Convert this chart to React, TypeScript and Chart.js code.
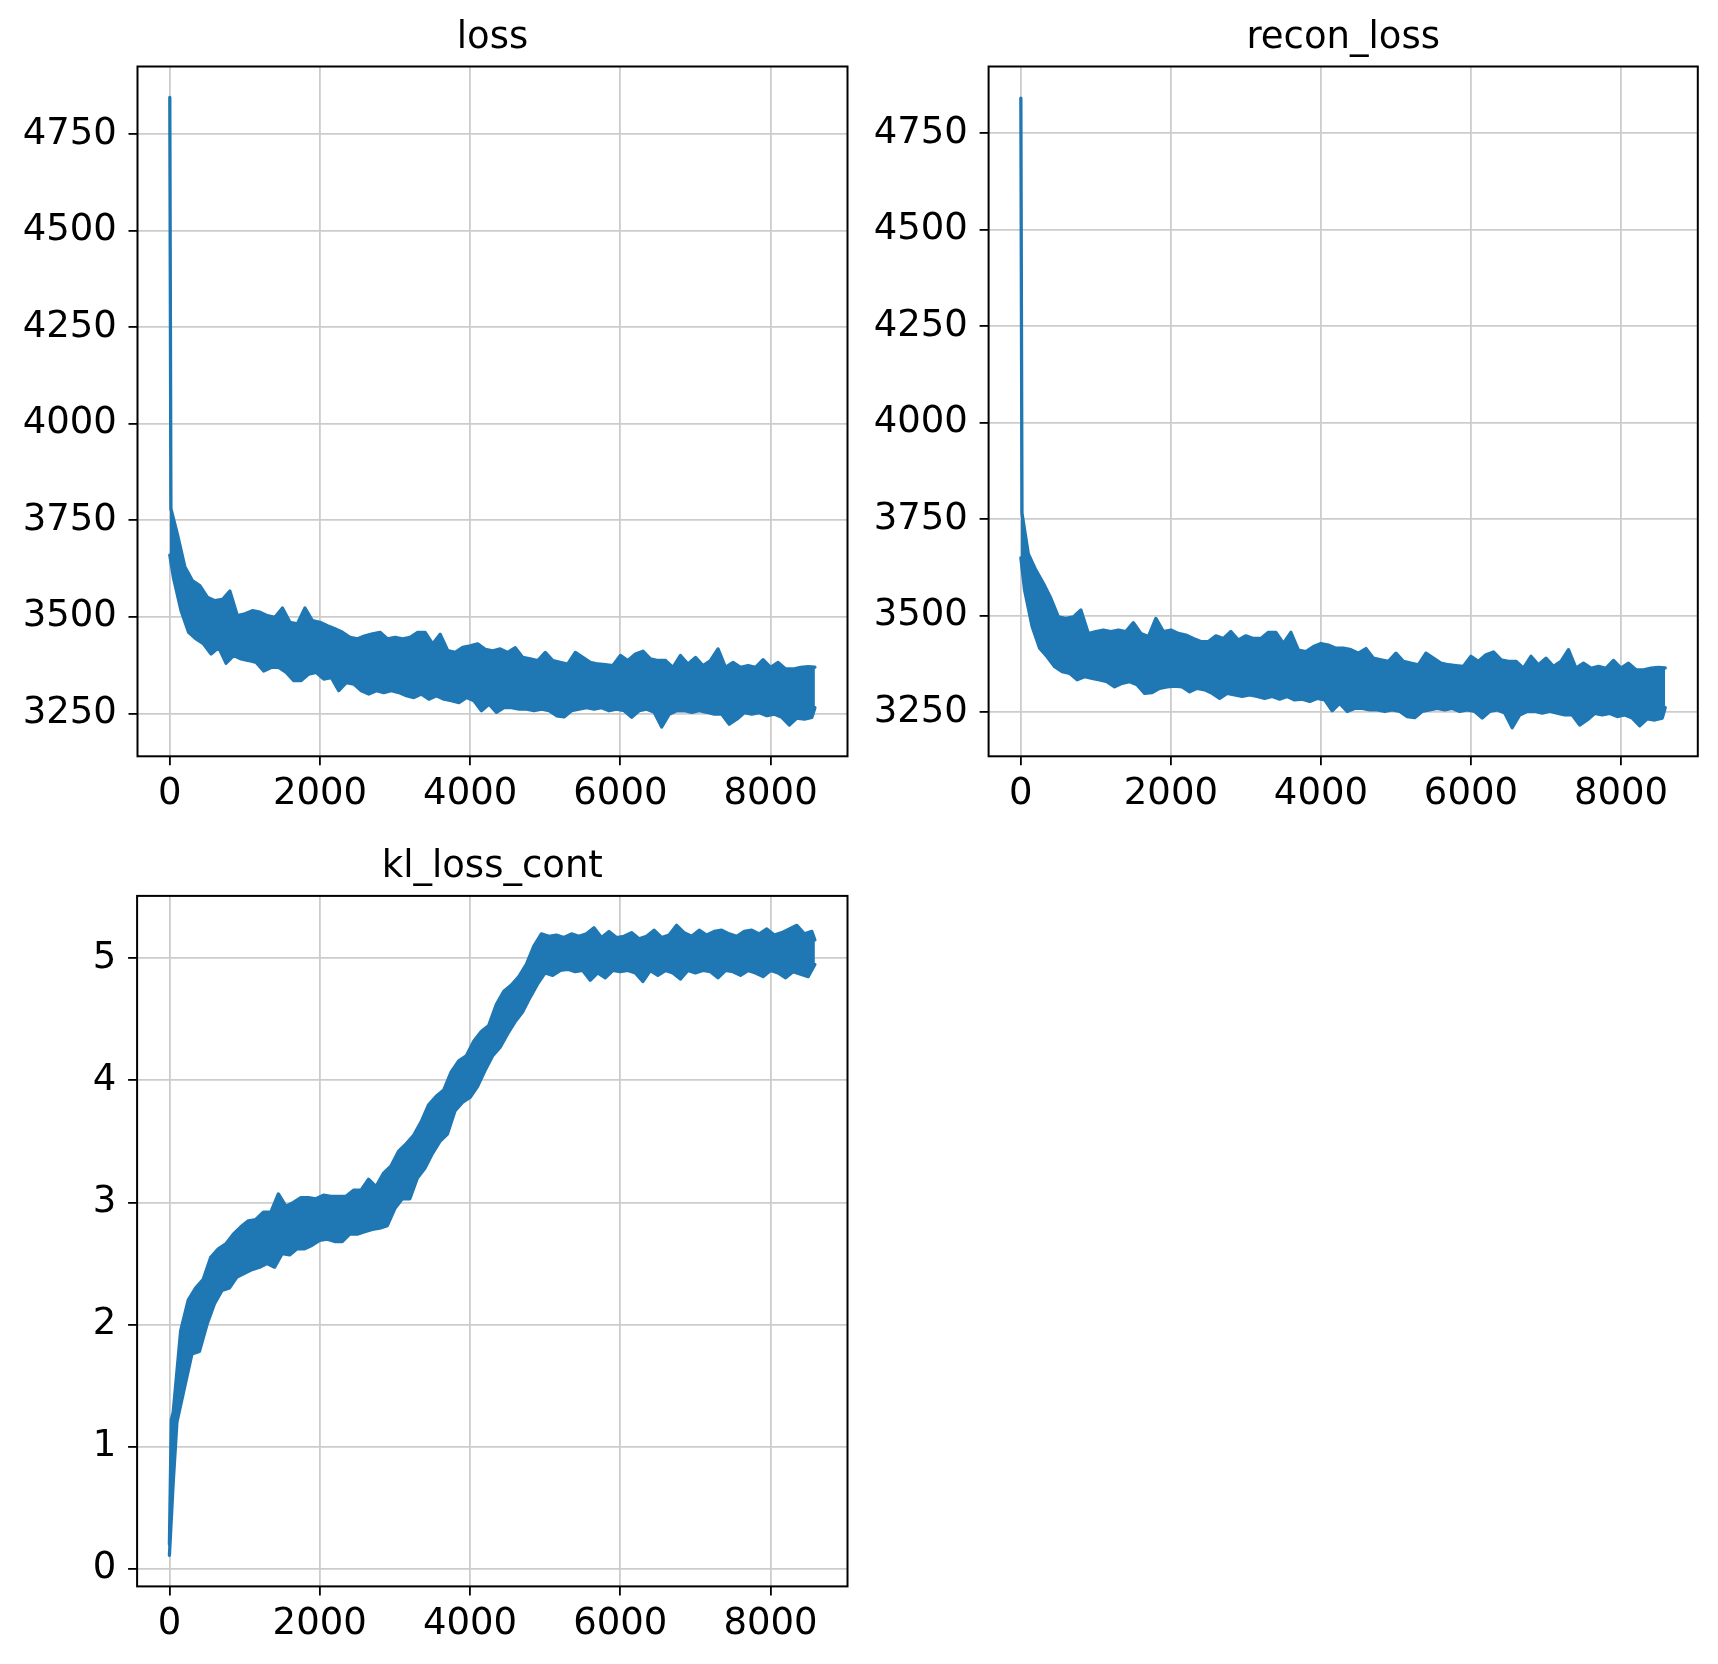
import React, { useEffect, useRef } from "react";
import { Chart, registerables } from "chart.js";

Chart.register(...registerables);

const FONT = "'DejaVu Sans', 'Liberation Sans', sans-serif";

// x grids of the envelope readings
const hundreds: number[] = Array.from({ length: 85 }, (_, i) => (i + 1) * 100); // 100..8500
const fifties: number[] = Array.from({ length: 86 }, (_, i) => i * 100 + 50); // 50..8550
const lastStep = 8590;

const xTicks = [0, 2000, 4000, 6000, 8000];
const lossTicks = [3250, 3500, 3750, 4000, 4250, 4500, 4750];
const klTicks = [0, 1, 2, 3, 4, 5];

// ---- loss: upper / lower edge of the noisy curve ----
const lossHighSteps = [0, 15, ...hundreds, lastStep];
const lossHigh = [
  4845, 3780,
  3715, 3630, 3594, 3581, 3551, 3542, 3545, 3567, 3503, 3508,
  3516, 3512, 3503, 3499, 3523, 3486, 3482, 3523, 3490, 3486,
  3477, 3469, 3460, 3447, 3443, 3451, 3456, 3460, 3443, 3447,
  3443, 3447, 3460, 3460, 3430, 3455, 3413, 3408, 3421, 3425,
  3430, 3416, 3412, 3417, 3408, 3420, 3395, 3391, 3387, 3408,
  3387, 3382, 3378, 3408, 3395, 3382, 3378, 3376, 3374, 3400,
  3387, 3404, 3411, 3391, 3387, 3387, 3369, 3400, 3378, 3395,
  3374, 3387, 3417, 3369, 3382, 3369, 3374, 3369, 3389, 3369,
  3382, 3365, 3365, 3369, 3371,
  3370,
];
const lossLowSteps = [0, ...fifties, lastStep];
const lossLow = [
  3660,
  3600, 3516, 3460, 3443, 3430, 3404, 3421, 3380, 3400, 3391,
  3387, 3382, 3360, 3369, 3369, 3356, 3335, 3335, 3352, 3356,
  3339, 3343, 3309, 3330, 3326, 3309, 3300, 3309, 3304, 3309,
  3304, 3296, 3291, 3300, 3287, 3296, 3287, 3283, 3278, 3291,
  3283, 3257, 3274, 3253, 3265, 3265, 3261, 3261, 3257, 3261,
  3257, 3244, 3241, 3257, 3261, 3265, 3261, 3265, 3257, 3261,
  3257, 3240, 3257, 3261, 3253, 3215, 3248, 3257, 3257, 3253,
  3257, 3253, 3248, 3248, 3222, 3235, 3252, 3248, 3252, 3244,
  3248, 3240, 3220, 3238, 3235, 3240,
  3265,
];

// ---- recon_loss ----
const reconHighSteps = [0, 15, ...hundreds, lastStep];
const reconHigh = [
  4840, 3765,
  3660, 3618, 3584, 3545, 3497, 3493, 3497, 3515, 3454, 3459,
  3463, 3459, 3463, 3459, 3482, 3454, 3446, 3493, 3459, 3463,
  3454, 3450, 3441, 3433, 3433, 3448, 3441, 3459, 3437, 3448,
  3441, 3441, 3457, 3457, 3428, 3457, 3411, 3407, 3420, 3428,
  3424, 3416, 3416, 3412, 3403, 3415, 3390, 3386, 3382, 3403,
  3382, 3377, 3373, 3403, 3390, 3377, 3373, 3371, 3369, 3395,
  3382, 3399, 3406, 3386, 3382, 3382, 3364, 3395, 3373, 3390,
  3369, 3382, 3412, 3364, 3377, 3364, 3369, 3364, 3384, 3364,
  3377, 3360, 3360, 3364, 3366,
  3365,
];
const reconLowSteps = [0, ...fifties, lastStep];
const reconLow = [
  3650,
  3566, 3472, 3416, 3394, 3368, 3355, 3351, 3334, 3342, 3338,
  3334, 3329, 3316, 3325, 3329, 3321, 3299, 3301, 3312, 3316,
  3318, 3316, 3303, 3312, 3308, 3299, 3286, 3299, 3295, 3291,
  3295, 3291, 3286, 3291, 3284, 3291, 3282, 3284, 3278, 3286,
  3282, 3254, 3273, 3252, 3260, 3260, 3256, 3256, 3252, 3256,
  3252, 3239, 3236, 3252, 3256, 3260, 3256, 3260, 3252, 3256,
  3252, 3235, 3252, 3256, 3248, 3210, 3243, 3252, 3252, 3248,
  3252, 3248, 3243, 3243, 3217, 3230, 3247, 3243, 3247, 3239,
  3243, 3235, 3215, 3233, 3230, 3235,
  3262,
];

// ---- kl_loss_cont ----
const klHighSteps = [0, 25, ...fifties, lastStep];
const klHigh = [
  0.2, 1.22,
  1.28, 1.95, 2.2, 2.3, 2.37, 2.55, 2.62, 2.66, 2.74, 2.8,
  2.85, 2.86, 2.92, 2.92, 3.07, 2.97, 3.0, 3.04, 3.04, 3.03,
  3.06, 3.05, 3.05, 3.05, 3.1, 3.1, 3.19, 3.13, 3.24, 3.3,
  3.42, 3.48, 3.55, 3.66, 3.8, 3.87, 3.92, 4.07, 4.16, 4.2,
  4.32, 4.4, 4.45, 4.62, 4.73, 4.78, 4.85, 4.95, 5.1, 5.2,
  5.18, 5.19, 5.17, 5.2, 5.18, 5.2, 5.25, 5.17, 5.22, 5.17,
  5.18, 5.21, 5.16, 5.18, 5.23, 5.17, 5.19, 5.27, 5.21, 5.18,
  5.23, 5.19, 5.22, 5.23, 5.2, 5.18, 5.22, 5.23, 5.2, 5.24,
  5.19, 5.21, 5.24, 5.27, 5.2, 5.22,
  5.15,
];
const klLowSteps = [0, 50, ...hundreds, lastStep];
const klLow = [
  0.11, 0.7,
  1.2, 1.48, 1.76, 1.78, 2.0, 2.17, 2.28, 2.3, 2.39, 2.42,
  2.45, 2.47, 2.5, 2.47, 2.58, 2.57, 2.62, 2.62, 2.65, 2.69,
  2.7, 2.68, 2.68, 2.74, 2.74, 2.76, 2.78, 2.79, 2.81, 2.95,
  3.03, 3.03, 3.2, 3.28, 3.4, 3.5, 3.56, 3.75, 3.82, 3.86,
  3.95, 4.08, 4.2, 4.27, 4.38, 4.48, 4.56, 4.68, 4.79, 4.88,
  4.86, 4.9, 4.91, 4.89, 4.9, 4.82, 4.88, 4.84, 4.9, 4.89,
  4.9, 4.88, 4.81, 4.9, 4.86, 4.9, 4.88, 4.83, 4.9, 4.88,
  4.9, 4.89, 4.84, 4.9, 4.89, 4.86, 4.9, 4.88, 4.85, 4.9,
  4.88, 4.84, 4.89, 4.87, 4.85,
  4.95,
];

const BLUE = "#1f77b4";

const spinesPlugin = {
  id: "spines",
  afterDraw(chart: any) {
    const { ctx, chartArea } = chart;
    const { left, top, right, bottom } = chartArea;
    ctx.save();
    ctx.strokeStyle = "#000";
    ctx.lineWidth = 2;
    ctx.strokeRect(left, top, right - left, bottom - top);
    ctx.restore();
  },
};

type PanelProps = {
  title: string;
  highSteps: number[];
  high: number[];
  lowSteps: number[];
  low: number[];
  yTicks: number[];
  yMin: number;
  yMax: number;
  left: number;
  top: number;
  width: number;
  height: number;
  yWidth: number;
  padRight: number;
  titleTop: number;
  titleBottom: number;
  xHeight: number;
};

function Panel(p: PanelProps) {
  const ref = useRef<HTMLCanvasElement | null>(null);
  useEffect(() => {
    if (!ref.current) return;
    const tickFont = { family: FONT, size: 37 };
    const lineStyle = {
      borderColor: BLUE,
      backgroundColor: BLUE,
      borderWidth: 3.3,
      pointRadius: 0,
      tension: 0,
      borderJoinStyle: "round",
      borderCapStyle: "round",
    };
    const chart = new Chart(ref.current, {
      type: "line",
      data: {
        datasets: [
          {
            ...lineStyle,
            data: p.highSteps.map((s, i) => ({ x: s, y: p.high[i] })),
            fill: "+1",
          },
          {
            ...lineStyle,
            data: p.lowSteps.map((s, i) => ({ x: s, y: p.low[i] })),
            fill: false,
          },
        ],
      },
      options: {
        responsive: false,
        animation: false,
        devicePixelRatio: 1,
        layout: { padding: { left: 0, right: p.padRight, top: 0, bottom: 0 } },
        plugins: {
          legend: { display: false },
          tooltip: { enabled: false },
          filler: { propagate: false },
          title: {
            display: true,
            text: p.title,
            fullSize: false,
            color: "#000",
            font: { family: FONT, size: 37, weight: "normal" },
            padding: { top: p.titleTop, bottom: p.titleBottom },
          },
        },
        scales: {
          x: {
            type: "linear",
            min: -430,
            max: 9024,
            afterBuildTicks: (s: any) => {
              s.ticks = xTicks.map((v) => ({ value: v }));
            },
            afterFit: (s: any) => {
              s.height = p.xHeight;
            },
            grid: {
              color: "#cccccc",
              lineWidth: 1.8,
              tickLength: 9,
              tickColor: "#000",
              tickWidth: 1.8,
            },
            border: { display: false },
            ticks: {
              autoSkip: false,
              maxRotation: 0,
              minRotation: 0,
              padding: 6.5,
              color: "#000",
              font: tickFont,
              callback: (v: any) => String(v),
            },
          },
          y: {
            type: "linear",
            min: p.yMin,
            max: p.yMax,
            afterBuildTicks: (s: any) => {
              s.ticks = p.yTicks.map((v) => ({ value: v }));
            },
            afterFit: (s: any) => {
              s.width = p.yWidth;
            },
            grid: {
              color: "#cccccc",
              lineWidth: 1.8,
              tickLength: 9,
              tickColor: "#000",
              tickWidth: 1.8,
            },
            border: { display: false },
            ticks: {
              autoSkip: false,
              padding: 11.7,
              color: "#000",
              font: tickFont,
              callback: (v: any) => String(v),
            },
          },
        },
      } as any,
      plugins: [spinesPlugin],
    });
    return () => chart.destroy();
  }, []);
  return (
    <canvas
      ref={ref}
      width={p.width}
      height={p.height}
      style={{ position: "absolute", left: p.left, top: p.top, width: p.width, height: p.height }}
    />
  );
}

export default function App() {
  return (
    <div style={{ position: "absolute", left: 0, top: 0, width: 1718, height: 1664, background: "#fff" }}>
      <Panel
        title="loss"
        highSteps={lossHighSteps}
        high={lossHigh}
        lowSteps={lossLowSteps}
        low={lossLow}
        yTicks={lossTicks}
        yMin={3139}
        yMax={4925}
        left={0}
        top={0}
        width={860}
        height={830}
        yWidth={137.5}
        padRight={12.5}
        titleTop={15.8}
        titleBottom={6.3}
        xHeight={73.7}
      />
      <Panel
        title="recon_loss"
        highSteps={reconHighSteps}
        high={reconHigh}
        lowSteps={reconLowSteps}
        low={reconLow}
        yTicks={lossTicks}
        yMin={3136}
        yMax={4922}
        left={860}
        top={0}
        width={858}
        height={830}
        yWidth={128.6}
        padRight={20.2}
        titleTop={15.8}
        titleBottom={6.3}
        xHeight={73.7}
      />
      <Panel
        title="kl_loss_cont"
        highSteps={klHighSteps}
        high={klHigh}
        lowSteps={klLowSteps}
        low={klLow}
        yTicks={klTicks}
        yMin={-0.145}
        yMax={5.511}
        left={0}
        top={830}
        width={860}
        height={834}
        yWidth={137.1}
        padRight={12.5}
        titleTop={15.2}
        titleBottom={6.3}
        xHeight={77.6}
      />
    </div>
  );
}
